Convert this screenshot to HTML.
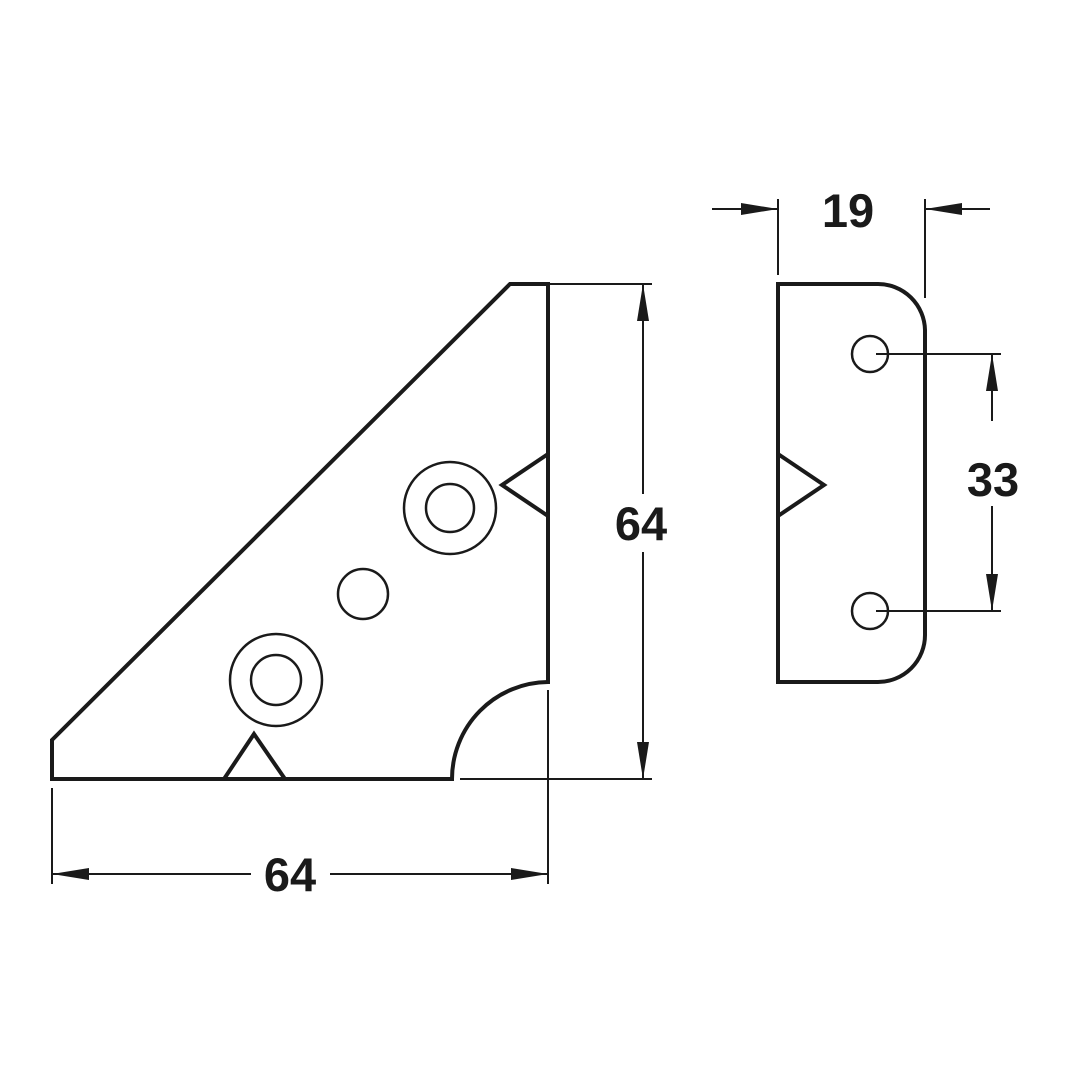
<!DOCTYPE html>
<html><head><style>html,body{margin:0;padding:0;background:#fff}</style></head>
<body>
<svg width="1080" height="1080" viewBox="0 0 1080 1080" xmlns="http://www.w3.org/2000/svg">
<rect width="1080" height="1080" fill="#fff"/>
<defs>
<path id="ah" d="M0,0 L-37,-6 L-37,6 Z" fill="#1a1a1a"/>
</defs>
<g fill="none" stroke="#1a1a1a" stroke-width="4" stroke-linejoin="miter">
<path d="M52,740 L510,284 L548,284 L548,682 A97,97 0 0 0 452,779 L52,779 Z"/>
<path d="M548,454 L502,485 L548,516"/>
<path d="M224,779 L254,734 L285,779"/>
<path d="M925,330 A47,47 0 0 0 878,284 L778,284 L778,682 L878,682 A47,47 0 0 0 925,635 Z"/>
<path d="M778,454 L824,485 L778,516"/>
</g>
<g fill="none" stroke="#1a1a1a" stroke-width="2.5">
<circle cx="450" cy="508" r="46"/><circle cx="450" cy="508" r="24"/>
<circle cx="363" cy="594" r="25"/>
<circle cx="276" cy="680" r="46"/><circle cx="276" cy="680" r="25"/>
<circle cx="870" cy="354" r="18"/><circle cx="870" cy="611" r="18"/>
</g>
<g stroke="#1a1a1a" stroke-width="2">
<line x1="529" y1="284" x2="652" y2="284"/>
<line x1="460" y1="779" x2="652" y2="779"/>
<line x1="643" y1="284" x2="643" y2="494"/>
<line x1="643" y1="552" x2="643" y2="779"/>
<line x1="548" y1="690" x2="548" y2="884"/>
<line x1="52" y1="788" x2="52" y2="884"/>
<line x1="52" y1="874" x2="251" y2="874"/>
<line x1="330" y1="874" x2="548" y2="874"/>
<line x1="876" y1="354" x2="1001" y2="354"/>
<line x1="876" y1="611" x2="1001" y2="611"/>
<line x1="992" y1="354" x2="992" y2="421"/>
<line x1="992" y1="506" x2="992" y2="611"/>
<line x1="778" y1="199" x2="778" y2="275"/>
<line x1="925" y1="199" x2="925" y2="298"/>
<line x1="712" y1="209" x2="778" y2="209"/>
<line x1="925" y1="209" x2="990" y2="209"/>
</g>
<use href="#ah" transform="translate(643,284) rotate(-90)"/>
<use href="#ah" transform="translate(643,779) rotate(90)"/>
<use href="#ah" transform="translate(52,874) rotate(180)"/>
<use href="#ah" transform="translate(548,874)"/>
<use href="#ah" transform="translate(992,354) rotate(-90)"/>
<use href="#ah" transform="translate(992,611) rotate(90)"/>
<use href="#ah" transform="translate(778,209)"/>
<use href="#ah" transform="translate(925,209) rotate(180)"/>
<g font-family="Liberation Sans, sans-serif" font-weight="bold" font-size="47" fill="#1a1a1a" text-anchor="middle">
<text x="641" y="540">64</text>
<text x="290" y="891">64</text>
<text x="993" y="496">33</text>
<text x="848" y="227">19</text>
</g>
</svg>
</body></html>
